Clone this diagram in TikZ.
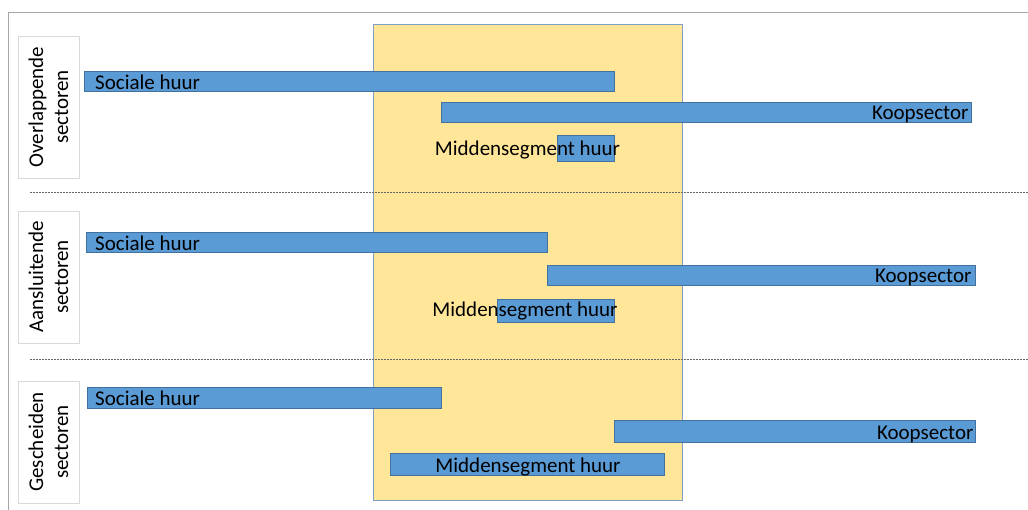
\documentclass[tikz,border=0pt]{standalone}
\usepackage{fontspec}
\setmainfont{Carlito}
\usetikzlibrary{positioning}
\definecolor{balkblauw}{HTML}{5B9BD5}
\definecolor{balklijn}{HTML}{41719C}
\definecolor{middengeel}{HTML}{FFE699}
\definecolor{middenlijn}{HTML}{7F9FC9}

\tikzset{
    balk/.style={
        rectangle,
        draw=balklijn,
        line width=0.6pt,
        fill=balkblauw,
        inner sep=0pt,
        anchor=north west
    },
    balktekst/.style={
        inner sep=0pt,
        font=\fontsize{21}{24}\selectfont,
        text=black
    },
    sectorvak/.style={
        rectangle,
        draw=black!15,
        fill=white,
        rotate=90,
        align=center,
        minimum height=61pt,
        inner sep=0pt,
        font=\fontsize{21}{25}\selectfont
    },
    scheiding/.style={
        black!60,
        line width=0.6pt,
        dash pattern=on 1.5pt off 1.5pt
    }
}

\begin{document}
\begin{tikzpicture}[x=1pt, y=-1pt]
\useasboundingbox (0,0) rectangle (1028,510);

% kader
\coordinate (kaderrechts) at (1028,12);
\coordinate (kaderhoek) at (8,12);
\coordinate (kaderonder) at (8,510);
\draw[black!35, line width=0.8pt] (kaderrechts) -- (kaderhoek) -- (kaderonder);

% middensegment-gebied
\node[rectangle, draw=middenlijn, line width=0.8pt, fill=middengeel,
      minimum width=309pt, minimum height=476pt, inner sep=0pt]
      (middengebied) at (527.5,262) {};

% scheidingslijnen
\coordinate (scheiding1l) at (30,192);
\coordinate (scheiding1r) at (1028,192);
\coordinate (scheiding2l) at (30,359);
\coordinate (scheiding2r) at (1028,359);
\draw[scheiding] (scheiding1l) -- (scheiding1r);
\draw[scheiding] (scheiding2l) -- (scheiding2r);

% sectorvakken
\node[sectorvak, minimum width=142pt] (overlap) at (48.5,107) {Overlappende\\sectoren};
\node[sectorvak, minimum width=132pt] (aansluit) at (48.5,277) {Aansluitende\\sectoren};
\node[sectorvak, minimum width=122pt] (gescheiden) at (48.5,442) {Gescheiden\\sectoren};

% overlappende sectoren
\node[balk, minimum width=530pt, minimum height=20pt] (sociaal1) at (84,71) {};
\node[balk, minimum width=530pt, minimum height=20pt] (koop1) at (441,102) {};
\node[balk, minimum width=57pt, minimum height=26pt] (midden1) at (557,135) {};
\node[balktekst, anchor=base west] (sociaaltekst1) at ([xshift=11pt, yshift=2.5pt]sociaal1.south west) {Sociale huur};
\node[balktekst, anchor=base east] (kooptekst1) at ([xshift=-3pt, yshift=3pt]koop1.south east) {Koopsector};
\node[balktekst, anchor=base] (middentekst1) at (527.5,156) {Middensegment huur};

% aansluitende sectoren
\node[balk, minimum width=461pt, minimum height=20pt] (sociaal2) at (86,232) {};
\node[balk, minimum width=428pt, minimum height=20pt] (koop2) at (547,265) {};
\node[balk, minimum width=117pt, minimum height=23pt] (midden2) at (497,299) {};
\node[balktekst, anchor=base west] (sociaaltekst2) at ([xshift=9pt, yshift=2.5pt]sociaal2.south west) {Sociale huur};
\node[balktekst, anchor=base east] (kooptekst2) at ([xshift=-4pt, yshift=3pt]koop2.south east) {Koopsector};
\node[balktekst, anchor=base] (middentekst2) at (525,317) {Middensegment huur};

% gescheiden sectoren
\node[balk, minimum width=354pt, minimum height=21pt] (sociaal3) at (87,387) {};
\node[balk, minimum width=361pt, minimum height=22pt] (koop3) at (614,420) {};
\node[balk, minimum width=274pt, minimum height=22pt] (midden3) at (390,453) {};
\node[balktekst, anchor=base west] (sociaaltekst3) at ([xshift=8pt, yshift=3pt]sociaal3.south west) {Sociale huur};
\node[balktekst, anchor=base east] (kooptekst3) at ([xshift=-2pt, yshift=3.5pt]koop3.south east) {Koopsector};
\node[balktekst, anchor=base] (middentekst3) at (528,472.5) {Middensegment huur};

\end{tikzpicture}
\end{document}
